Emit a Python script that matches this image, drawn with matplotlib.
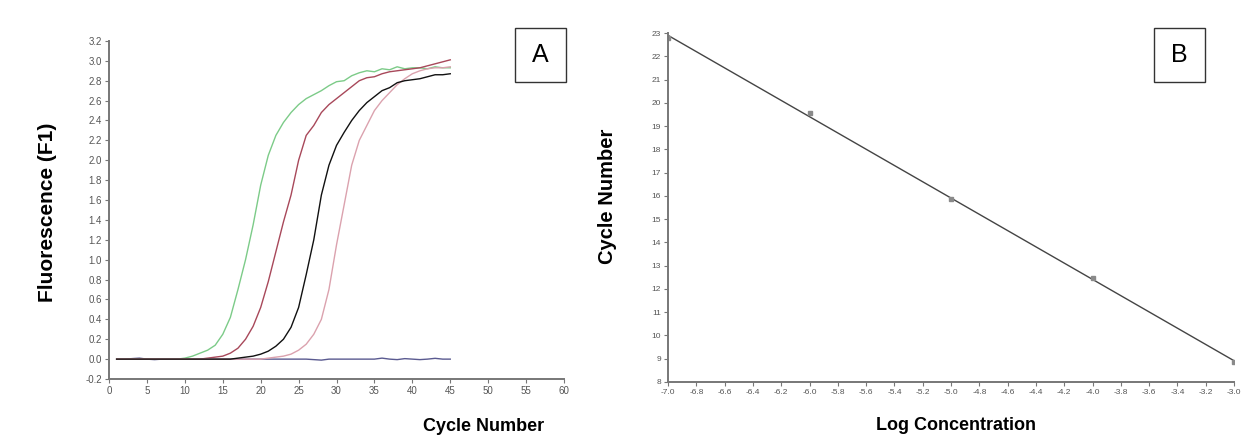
import matplotlib
matplotlib.use("Agg")
import matplotlib.pyplot as plt
from matplotlib.patches import Rectangle
import numpy as np

plt.rcParams['font.family'] = ['Liberation Sans', 'DejaVu Sans']

# panel A: amplification curves (fluorescence per cycle)
cycles = list(range(1, 46))
green = [0.0]*9 + [0.01, 0.03, 0.06, 0.09, 0.14, 0.25, 0.42, 0.7, 1.0, 1.35, 1.75,
                   2.05, 2.25, 2.38, 2.48, 2.56, 2.62, 2.66, 2.7, 2.75, 2.79, 2.8,
                   2.85, 2.88, 2.9, 2.89, 2.92, 2.91, 2.94, 2.92, 2.93, 2.93, 2.92,
                   2.94, 2.93, 2.93]
red = [0.0]*12 + [0.01, 0.02, 0.03, 0.06, 0.11, 0.2, 0.33, 0.52, 0.78, 1.08, 1.38,
                  1.65, 2.0, 2.25, 2.35, 2.48, 2.56, 2.62, 2.68, 2.74, 2.8, 2.83,
                  2.84, 2.87, 2.89, 2.9, 2.91, 2.92, 2.93, 2.95, 2.97, 2.99, 3.01]
black = [0.0]*16 + [0.01, 0.02, 0.03, 0.05, 0.08, 0.13, 0.2, 0.32, 0.52, 0.85, 1.2,
                    1.65, 1.95, 2.15, 2.28, 2.4, 2.5, 2.58, 2.64, 2.7, 2.73, 2.78,
                    2.8, 2.81, 2.82, 2.84, 2.86, 2.86, 2.87]
pink = [0.0]*20 + [0.01, 0.02, 0.03, 0.05, 0.09, 0.15, 0.25, 0.4, 0.7, 1.15, 1.55,
                   1.95, 2.2, 2.35, 2.5, 2.6, 2.68, 2.76, 2.82, 2.87, 2.9, 2.92,
                   2.93, 2.93, 2.94]
blank = [0.0, 0.0, 0.005, 0.01, 0.0, -0.005, 0.0, 0.0, 0.0, 0.0, 0.0, 0.0, 0.0, 0.0,
         0.0, 0.0, 0.0, 0.0, 0.0, 0.0, 0.0, 0.0, 0.0, 0.0, 0.0, 0.0, -0.005, -0.01,
         0.0, 0.0, 0.0, 0.0, 0.0, 0.0, 0.0, 0.01, 0.0, -0.005, 0.005, 0.0, -0.005,
         0.0, 0.008, 0.0, 0.0]

# panel B: standard curve
log_conc = [-7.0, -6.0, -5.0, -4.0, -3.0]
ct = [22.8, 19.55, 15.85, 12.47, 8.86]

fig = plt.figure(figsize=(12.55, 4.46), dpi=100)

def style_axes(ax, labelsize):
    for s in ['top', 'right']:
        ax.spines[s].set_visible(False)
    for s in ['left', 'bottom']:
        ax.spines[s].set_color('#777777')
        ax.spines[s].set_linewidth(1.4)
    ax.tick_params(direction='out', length=3, width=0.8, colors='#777777',
                   labelsize=labelsize, labelcolor='#555555', pad=2)

# Panel A
ax1 = fig.add_axes([0.0869, 0.1502, 0.3625, 0.758])
ax1.plot(cycles, blank, color='#5a5a90', lw=1.0)
ax1.plot(cycles, green, color='#7ccb88', lw=1.0)
ax1.plot(cycles, red, color='#a8485a', lw=1.0)
ax1.plot(cycles, pink, color='#dba2ae', lw=1.0)
ax1.plot(cycles, black, color='#111111', lw=1.0)
ax1.set_xlim(0, 60)
ax1.set_ylim(-0.2, 3.2)
ax1.set_xticks(range(0, 61, 5))
ax1.set_yticks(np.arange(-0.2, 3.21, 0.2))
ax1.set_yticklabels(['%.1f' % v for v in np.arange(-0.2, 3.21, 0.2)])
style_axes(ax1, 7)
fig.text(0.038, 0.525, 'Fluorescence (F1)', rotation=90, ha='center', va='center',
         fontsize=15, fontweight='bold')
fig.text(0.385, 0.043, 'Cycle Number', ha='center', va='center',
         fontsize=13, fontweight='bold')

# Panel B
ax2 = fig.add_axes([0.5323, 0.1435, 0.451, 0.7825])
slope, icpt = np.polyfit(log_conc, ct, 1)
xl = np.array([-7.0, -3.0])
ax2.plot(xl, slope * xl + icpt, color='#444444', lw=1.0)
ax2.plot(log_conc, ct, 's', ms=2.2, color='#8a8a8a')
ax2.set_xlim(-7.0, -3.0)
ax2.set_ylim(8, 23)
xt = np.arange(-7.0, -2.99, 0.2)
ax2.set_xticks(xt)
ax2.set_xticklabels(['%.1f' % v for v in xt])
ax2.set_yticks(range(8, 24))
style_axes(ax2, 6)
fig.text(0.484, 0.56, 'Cycle Number', rotation=90, ha='center', va='center',
         fontsize=14.5, fontweight='bold')
fig.text(0.762, 0.045, 'Log Concentration', ha='center', va='center',
         fontsize=13, fontweight='bold')

# panel letters
for x0, letter in [(515, 'A'), (1154, 'B')]:
    fig.add_artist(Rectangle((x0 / 1255, 1 - 82 / 446), 51 / 1255, 54 / 446,
                             transform=fig.transFigure, fill=False,
                             edgecolor='#333333', lw=1.0))
    fig.text((x0 + 25.5) / 1255, 1 - 55 / 446, letter, ha='center', va='center',
             fontsize=18)

fig.savefig('out.png', dpi=100, facecolor='white')
